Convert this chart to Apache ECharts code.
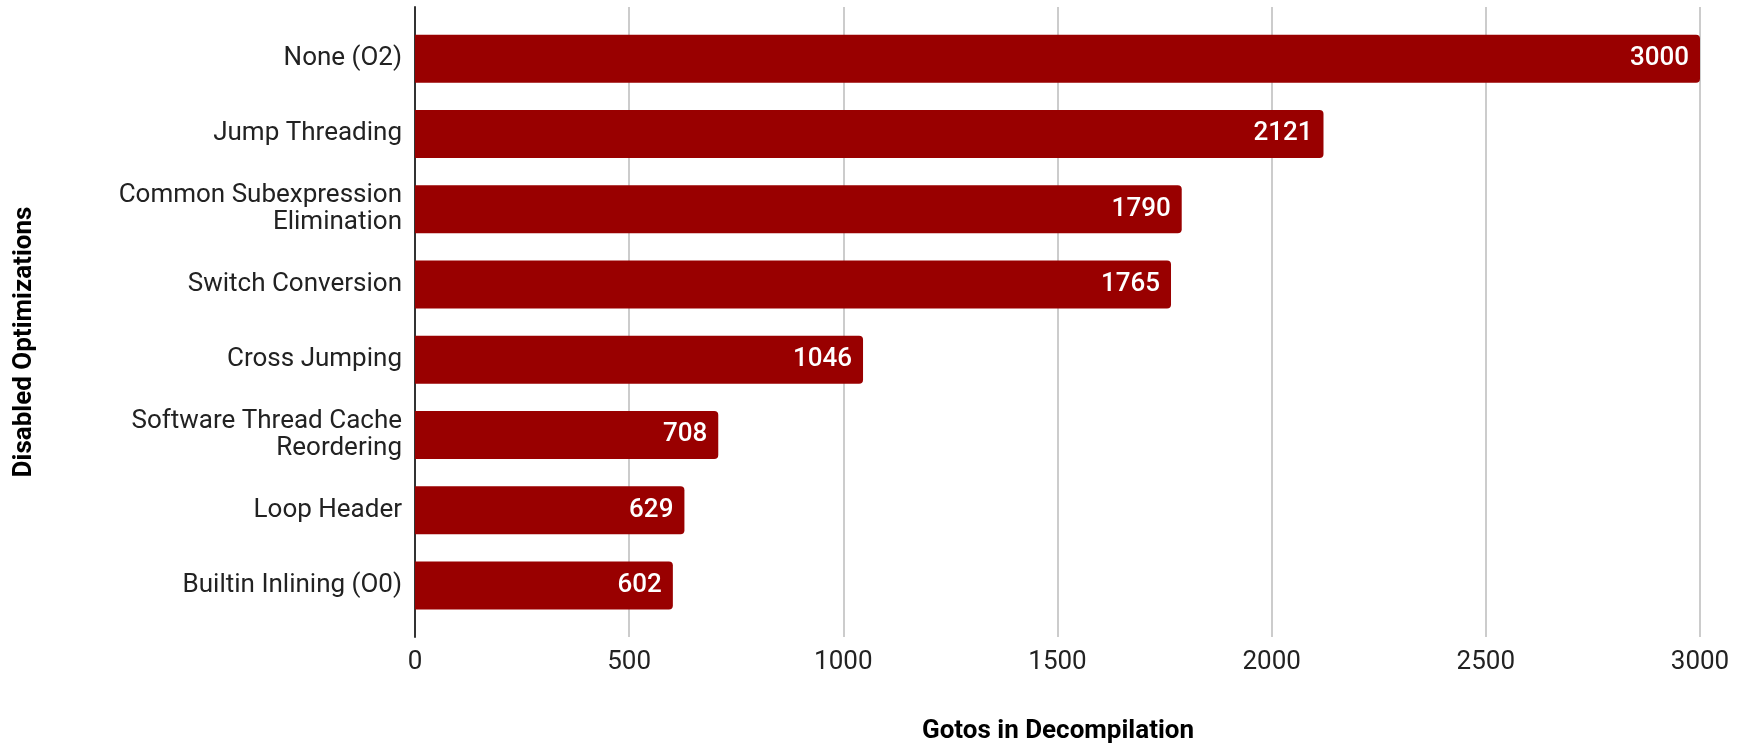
<!DOCTYPE html>
<html>
<head>
<meta charset="utf-8">
<script src="https://cdn.jsdelivr.net/npm/echarts@6/dist/echarts.min.js"></script>
<style>
  html, body { margin: 0; padding: 0; background: #fff; }
  #chart { width: 1742px; height: 744px; }
</style>
</head>
<body>
<div id="chart"></div>
<script>
const categories = [
  'None (O2)',
  'Jump Threading',
  'Common Subexpression\nElimination',
  'Switch Conversion',
  'Cross Jumping',
  'Software Thread Cache\nReordering',
  'Loop Header',
  'Builtin Inlining (O0)',
]
const gotos = [3000, 2121, 1790, 1765, 1046, 708, 629, 602]
const xTicks = [0, 500, 1000, 1500, 2000, 2500, 3000]

const xMin = xTicks[0]
const xMax = xTicks[xTicks.length - 1]
const font = 'Roboto, "Noto Sans", sans-serif'

const chart = echarts.init(document.getElementById('chart'))

const option = {
  animation: false,
  textStyle: { fontFamily: font },
  grid: [
    // frame: gridlines, axis line, tick labels
    { left: 415, right: 42, top: 7, bottom: 107 },
    // bars
    { left: 415, right: 42, top: 21, bottom: 121 },
  ],
  xAxis: [
    {
      gridIndex: 0,
      type: 'value',
      min: xMin,
      max: xMax,
      interval: 500,
      axisLine: { show: false },
      axisTick: { show: false },
      splitLine: { lineStyle: { color: '#cccccc', width: 2 } },
      axisLabel: {
        color: '#222',
        fontSize: 26,
        margin: 12,
        formatter: (v) => String(v),
      },
    },
    {
      gridIndex: 1,
      type: 'value',
      min: xMin,
      max: xMax,
      show: false,
    },
  ],
  yAxis: [
    {
      gridIndex: 0,
      type: 'value',
      min: 0,
      max: 1,
      axisLine: { show: true, lineStyle: { color: '#333', width: 2 } },
      axisTick: { show: false },
      axisLabel: { show: false },
      splitLine: { show: false },
    },
    {
      gridIndex: 1,
      type: 'category',
      inverse: true,
      data: categories,
      axisLine: { show: false },
      axisTick: { show: false },
      axisLabel: {
        color: '#222',
        fontSize: 26,
        lineHeight: 27,
        margin: 13,
        align: 'right',
      },
    },
  ],
  series: [
    {
      type: 'bar',
      xAxisIndex: 1,
      yAxisIndex: 1,
      data: gotos,
      barWidth: 48,
      itemStyle: { color: '#990000', borderRadius: [0, 4, 4, 0] },
      label: {
        show: true,
        position: 'insideRight',
        distance: 11,
        color: '#fff',
        fontSize: 26,
        fontWeight: 500,
      },
    },
  ],
  graphic: [
    {
      type: 'text',
      x: 24,
      y: 342,
      rotation: Math.PI / 2,
      style: {
        text: 'Disabled Optimizations',
        font: 'bold 26px ' + font,
        fill: '#000',
        align: 'center',
        verticalAlign: 'middle',
      },
    },
    {
      type: 'text',
      x: 1058,
      y: 731,
      style: {
        text: 'Gotos in Decompilation',
        font: 'bold 26px ' + font,
        fill: '#000',
        align: 'center',
        verticalAlign: 'middle',
      },
    },
  ],
}

chart.setOption(option)
</script>
</body>
</html>
